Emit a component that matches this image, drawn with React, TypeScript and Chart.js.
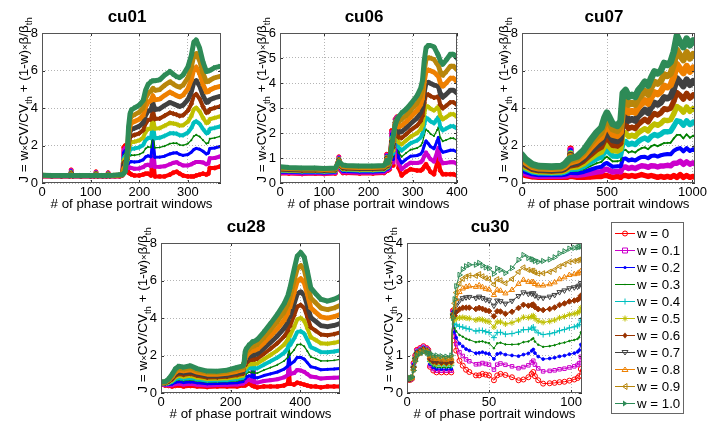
import React, { useEffect, useRef } from "react";
import { Chart, registerables } from "chart.js";

Chart.register(...registerables);

// ---------------- DATA ----------------
// J = w*CV/CV_th + (1-w)*beta/beta_th ; the w = 1 curve is CV/CV_th, the w = 0 curve is beta/beta_th
const W_VALUES = [0, 0.1, 0.2, 0.3, 0.4, 0.5, 0.6, 0.7, 0.8, 0.9, 1.0];
const LEGEND_LABELS = ["w = 0", "w = 0.1", "w = 0.2", "w = 0.3", "w = 0.4", "w = 0.5", "w = 0.6", "w = 0.7", "w = 0.8", "w = 0.9", "w = 1.0"];

// cu01
const CU01_X = [0, 20, 40, 57, 60, 63, 80, 100, 108, 111, 114, 125, 133, 136, 139, 150, 160, 165, 168, 171, 175, 178, 181, 184, 190, 200, 208, 213, 218, 224, 228, 232, 242, 252, 263, 270, 277, 283, 290, 300, 307, 312, 317, 324, 331, 338, 342, 345, 355, 366];
const CU01_CV = [0.42, 0.4, 0.4, 0.4, 0.42, 0.4, 0.4, 0.4, 0.4, 0.42, 0.4, 0.4, 0.4, 0.42, 0.4, 0.42, 0.44, 0.45, 0.5, 0.6, 1.5, 3.0, 3.7, 3.9, 4.0, 4.15, 4.4, 4.95, 5.25, 5.4, 5.45, 5.45, 5.5, 5.75, 5.95, 5.8, 5.67, 5.62, 5.76, 6.2, 6.8, 7.5, 7.63, 7.2, 6.45, 5.95, 5.97, 6.0, 6.15, 6.22];
const CU01_BETA = [0.35, 0.35, 0.35, 0.35, 0.7, 0.35, 0.35, 0.35, 0.35, 0.6, 0.35, 0.35, 0.35, 0.55, 0.35, 0.35, 0.35, 0.4, 1.9, 2.0, 0.9, 0.55, 0.5, 0.45, 0.4, 0.4, 0.45, 0.5, 0.5, 0.4, 1.5, 0.35, 0.35, 0.35, 0.45, 0.55, 0.6, 0.5, 0.4, 0.35, 0.35, 0.35, 0.4, 0.45, 0.5, 0.45, 0.5, 0.8, 0.8, 0.88];
const CU01_XTICKS = [0, 100, 200, 300];
const CU01_YTICKS = [0, 2, 4, 6, 8];

// cu06
const CU06_X = [0, 20, 50, 80, 100, 125, 130, 133, 137, 142, 150, 180, 210, 235, 238, 241, 244, 248, 252, 256, 260, 264, 268, 275, 285, 295, 310, 318, 322, 326, 330, 335, 340, 348, 355, 358, 362, 368, 375, 385, 392, 400];
const CU06_CV = [0.65, 0.62, 0.6, 0.6, 0.58, 0.6, 0.75, 0.85, 0.8, 0.72, 0.7, 0.68, 0.68, 0.7, 0.75, 0.9, 0.8, 1.0, 1.4, 1.9, 2.3, 2.5, 2.65, 2.8, 2.95, 3.15, 3.5, 3.8, 4.1, 4.9, 5.4, 5.5, 5.5, 5.45, 5.2, 5.1, 4.9, 4.75, 4.9, 5.15, 5.15, 5.0];
const CU06_BETA = [0.38, 0.38, 0.36, 0.38, 0.36, 0.38, 0.8, 1.05, 0.5, 0.4, 0.4, 0.38, 0.38, 0.4, 0.45, 1.15, 0.5, 0.55, 2.1, 0.7, 2.55, 2.65, 0.6, 0.3, 0.45, 0.55, 0.5, 0.5, 0.55, 0.65, 0.75, 0.6, 0.45, 0.35, 0.8, 1.0, 0.5, 0.35, 0.35, 0.35, 0.35, 0.3];
const CU06_XTICKS = [0, 100, 200, 300, 400];
const CU06_YTICKS = [0, 1, 2, 3, 4, 5, 6];

// cu07
const CU07_X = [0, 23, 60, 98, 174, 230, 249, 264, 280, 283, 287, 325, 362, 400, 438, 466, 485, 498, 513, 532, 560, 579, 592, 608, 626, 645, 664, 683, 702, 721, 740, 758, 777, 796, 815, 834, 853, 872, 891, 909, 928, 947, 966, 985, 1004, 1015];
const CU07_CV = [1.5, 1.25, 1.0, 0.9, 0.87, 0.9, 1.0, 1.15, 1.3, 1.3, 1.3, 1.43, 1.75, 2.25, 2.7, 2.95, 3.5, 3.75, 3.5, 3.15, 3.05, 3.3, 4.8, 4.95, 4.6, 4.7, 4.6, 4.95, 5.15, 5.4, 5.2, 5.6, 5.95, 5.85, 6.0, 6.4, 6.3, 6.45, 7.0, 7.85, 7.5, 7.25, 7.7, 7.35, 7.6, 7.5];
const CU07_BETA = [0.45, 0.4, 0.33, 0.3, 0.3, 0.3, 0.3, 0.3, 0.35, 1.85, 0.35, 0.3, 0.3, 0.32, 0.35, 0.35, 0.4, 0.4, 0.35, 0.3, 0.35, 0.3, 0.4, 0.4, 0.35, 0.4, 0.35, 0.4, 0.45, 0.4, 0.35, 0.4, 0.35, 0.3, 0.35, 0.3, 0.35, 0.3, 0.4, 0.3, 0.45, 0.3, 0.4, 0.3, 0.35, 0.3];
const CU07_XTICKS = [0, 500, 1000];
const CU07_YTICKS = [0, 2, 4, 6, 8];

// cu28
const CU28_X = [0, 12, 22, 32, 41, 51, 65, 85, 104, 133, 162, 190, 219, 236, 239, 242, 245, 253, 262, 265, 268, 277, 296, 315, 335, 354, 365, 368, 371, 383, 392, 402, 412, 421, 431, 445, 460, 479, 498, 515];
const CU28_CV = [0.6, 0.6, 0.75, 1.0, 1.28, 1.43, 1.38, 1.45, 1.3, 1.17, 1.16, 1.22, 1.36, 1.45, 1.6, 2.2, 2.35, 2.55, 2.7, 2.75, 2.75, 2.85, 3.25, 3.7, 4.2, 4.75, 5.2, 5.4, 5.6, 6.6, 7.3, 7.5, 7.25, 6.5, 5.6, 5.3, 5.0, 4.9, 5.0, 5.15];
const CU28_BETA = [0.45, 0.4, 0.38, 0.35, 0.38, 0.4, 0.35, 0.38, 0.35, 0.32, 0.35, 0.35, 0.35, 0.4, 1.5, 0.4, 0.45, 0.5, 0.4, 1.7, 0.35, 0.3, 0.35, 0.35, 0.35, 0.4, 0.5, 1.2, 0.5, 0.45, 0.55, 0.5, 0.45, 0.4, 0.35, 0.35, 0.3, 0.35, 0.35, 0.35];
const CU28_XTICKS = [0, 200, 400];
const CU28_YTICKS = [0, 2, 4, 6, 8];

// cu30
const CU30_X = [1, 2, 3, 4, 5, 6, 8, 10, 12, 13, 14, 16, 18, 21, 24, 27, 28, 29, 30, 32, 34, 36, 38, 42, 44, 46, 48, 50, 53, 55, 57, 60, 64, 68, 71, 74, 76, 77, 78, 80, 83, 87, 90, 93, 96, 99, 102, 104, 105, 106];
const CU30_CV = [0.4, 0.4, 0.42, 0.6, 0.85, 1.0, 1.05, 1.1, 1.08, 1.05, 1.05, 1.0, 1.0, 0.98, 0.97, 1.0, 2.0, 2.5, 2.85, 3.15, 3.3, 3.38, 3.42, 3.42, 3.47, 3.4, 3.35, 3.33, 3.18, 3.32, 3.28, 3.2, 3.33, 3.55, 3.68, 3.6, 3.57, 3.56, 3.52, 3.5, 3.52, 3.56, 3.62, 3.72, 3.78, 3.85, 3.87, 3.88, 3.9, 3.9];
const CU30_BETA = [0.35, 0.35, 0.38, 0.8, 1.0, 1.15, 1.2, 1.25, 1.2, 1.15, 0.7, 0.6, 0.55, 0.55, 0.55, 0.55, 2.2, 1.4, 1.13, 0.86, 0.73, 0.62, 0.56, 0.47, 0.47, 0.51, 0.49, 0.47, 0.34, 0.47, 0.51, 0.48, 0.42, 0.34, 0.36, 0.42, 0.51, 0.56, 0.45, 0.34, 0.25, 0.26, 0.27, 0.29, 0.3, 0.33, 0.36, 0.4, 0.45, 0.64];
const CU30_XTICKS = [0, 50, 100];
const CU30_YTICKS = [0, 1, 2, 3, 4];

// ---------------- STYLES ----------------
const FONT = '"Liberation Sans", Arial, Helvetica, sans-serif';
const COLORS = ["#ff0000", "#cc00cc", "#0000ff", "#008000", "#00bfbf", "#bfbf00", "#993300", "#404040", "#ee8000", "#b8860b", "#2e8b57"];
const MARKERS = [
  { style: "circle", rot: 0, r: 2.5, fill: false },
  { style: "rect", rot: 0, r: 2.5, fill: false },
  { style: "circle", rot: 0, r: 1.4, fill: true },
  { style: "circle", rot: 0, r: 0.8, fill: true },
  { style: "cross", rot: 0, r: 3, fill: false },
  { style: "star", rot: 0, r: 3, fill: false },
  { style: "rectRot", rot: 0, r: 2.8, fill: false },
  { style: "triangle", rot: 180, r: 3, fill: false },
  { style: "triangle", rot: 0, r: 3, fill: false },
  { style: "triangle", rot: -90, r: 3, fill: false },
  { style: "triangle", rot: 90, r: 3, fill: false },
];
const BAND_W = [4, 4, 3, 1.3, 4, 4, 4, 4.8, 4.8, 4.8, 5];

type Panel = {
  title: string;
  x: number[];
  cv: number[];
  beta: number[];
  xTicks: number[];
  yTicks: number[];
  xMax: number;
  box: { l: number; t: number; r: number; b: number };
  band: number;
  sparse: boolean;
  legend: boolean;
};

const PANELS: Panel[] = [
  { title: "cu01", x: CU01_X, cv: CU01_CV, beta: CU01_BETA, xTicks: CU01_XTICKS, yTicks: CU01_YTICKS, xMax: 368, box: { l: 42, t: 33, r: 221, b: 183 }, band: 1, sparse: false, legend: false },
  { title: "cu06", x: CU06_X, cv: CU06_CV, beta: CU06_BETA, xTicks: CU06_XTICKS, yTicks: CU06_YTICKS, xMax: 400, box: { l: 280, t: 33, r: 457, b: 183 }, band: 1, sparse: false, legend: false },
  { title: "cu07", x: CU07_X, cv: CU07_CV, beta: CU07_BETA, xTicks: CU07_XTICKS, yTicks: CU07_YTICKS, xMax: 1015, box: { l: 522, t: 33, r: 701, b: 183 }, band: 1.35, sparse: false, legend: false },
  { title: "cu28", x: CU28_X, cv: CU28_CV, beta: CU28_BETA, xTicks: CU28_XTICKS, yTicks: CU28_YTICKS, xMax: 515, box: { l: 161, t: 243, r: 340, b: 393 }, band: 1, sparse: false, legend: false },
  { title: "cu30", x: CU30_X, cv: CU30_CV, beta: CU30_BETA, xTicks: CU30_XTICKS, yTicks: CU30_YTICKS, xMax: 106.7, box: { l: 407, t: 243, r: 582, b: 393 }, band: 1, sparse: true, legend: true },
];

const Y_AXIS_W = 30;
const X_AXIS_H = 22;

function drawMarker(ctx: CanvasRenderingContext2D, k: number, x: number, y: number) {
  const c = COLORS[k];
  ctx.save();
  ctx.strokeStyle = c;
  ctx.fillStyle = c;
  ctx.lineWidth = 1;
  ctx.beginPath();
  const s = 2.5;
  switch (k) {
    case 0: ctx.arc(x, y, s, 0, Math.PI * 2); ctx.stroke(); break;
    case 1: ctx.rect(x - s, y - s, 2 * s, 2 * s); ctx.stroke(); break;
    case 2: ctx.arc(x, y, 1.5, 0, Math.PI * 2); ctx.fill(); break;
    case 3: ctx.arc(x, y, 0.8, 0, Math.PI * 2); ctx.fill(); break;
    case 4: ctx.moveTo(x - 3, y); ctx.lineTo(x + 3, y); ctx.moveTo(x, y - 3); ctx.lineTo(x, y + 3); ctx.stroke(); break;
    case 5: ctx.moveTo(x - 3, y); ctx.lineTo(x + 3, y); ctx.moveTo(x, y - 3); ctx.lineTo(x, y + 3);
      ctx.moveTo(x - 2, y - 2); ctx.lineTo(x + 2, y + 2); ctx.moveTo(x - 2, y + 2); ctx.lineTo(x + 2, y - 2); ctx.stroke(); break;
    case 6: ctx.moveTo(x, y - 3); ctx.lineTo(x + 2.5, y); ctx.lineTo(x, y + 3); ctx.lineTo(x - 2.5, y); ctx.closePath(); ctx.fill(); break;
    case 7: ctx.moveTo(x - 3, y - 2); ctx.lineTo(x + 3, y - 2); ctx.lineTo(x, y + 2.5); ctx.closePath(); ctx.stroke(); break;
    case 8: ctx.moveTo(x - 3, y + 2); ctx.lineTo(x + 3, y + 2); ctx.lineTo(x, y - 2.5); ctx.closePath(); ctx.stroke(); break;
    case 9: ctx.moveTo(x + 2, y - 3); ctx.lineTo(x + 2, y + 3); ctx.lineTo(x - 2.5, y); ctx.closePath(); ctx.stroke(); break;
    case 10: ctx.moveTo(x - 2, y - 3); ctx.lineTo(x - 2, y + 3); ctx.lineTo(x + 2.5, y); ctx.closePath(); ctx.fill(); break;
  }
  ctx.restore();
}

function drawYLabel(ctx: CanvasRenderingContext2D, baseX: number, centerY: number) {
  const big = 13.5;
  const small = 9.5;
  const segs = [
    { t: "J = w", s: big, dy: 0 },
    { t: "\u00d7", s: small, dy: 0 },
    { t: "CV/CV", s: big, dy: 0 },
    { t: "th", s: small, dy: 3.5 },
    { t: " + (1-w)", s: big, dy: 0 },
    { t: "\u00d7", s: small, dy: 0 },
    { t: "\u03b2/\u03b2", s: big, dy: 0 },
    { t: "th", s: small, dy: 3.5 },
  ];
  ctx.save();
  ctx.translate(baseX, centerY);
  ctx.rotate(-Math.PI / 2);
  ctx.fillStyle = "#000";
  ctx.textBaseline = "alphabetic";
  ctx.textAlign = "left";
  let total = 0;
  const widths = segs.map((g) => {
    ctx.font = `${g.s}px ${FONT}`;
    const w = ctx.measureText(g.t).width;
    total += w;
    return w;
  });
  let x = -total / 2;
  segs.forEach((g, i) => {
    ctx.font = `${g.s}px ${FONT}`;
    ctx.fillText(g.t, x, g.dy);
    x += widths[i];
  });
  ctx.restore();
}

const decoPlugin = {
  id: "deco",
  afterDraw(chart: any, _args: any, opts: any) {
    const p: Panel = opts.panel;
    const ctx: CanvasRenderingContext2D = chart.ctx;
    const { left, right, top, bottom } = chart.chartArea;
    const xs = chart.scales.x;
    const ys = chart.scales.y;
    ctx.save();
    // inward tick marks
    ctx.strokeStyle = "#333";
    ctx.lineWidth = 1;
    ctx.beginPath();
    p.xTicks.forEach((v) => {
      const px = Math.round(xs.getPixelForValue(v)) + 0.5;
      ctx.moveTo(px, bottom); ctx.lineTo(px, bottom - 3);
      ctx.moveTo(px, top); ctx.lineTo(px, top + 3);
    });
    p.yTicks.forEach((v) => {
      const py = Math.round(ys.getPixelForValue(v)) + 0.5;
      ctx.moveTo(left, py); ctx.lineTo(left + 3, py);
      ctx.moveTo(right, py); ctx.lineTo(right - 3, py);
    });
    ctx.stroke();
    // box
    ctx.strokeStyle = "#555";
    ctx.strokeRect(left + 0.5, top + 0.5, right - left - 1, bottom - top - 1);
    // title
    ctx.fillStyle = "#000";
    ctx.font = `bold 17px ${FONT}`;
    ctx.textAlign = "center";
    ctx.textBaseline = "alphabetic";
    ctx.fillText(p.title, (left + right) / 2 - 4.5, top - 11);
    // x label
    ctx.font = `13.3px ${FONT}`;
    ctx.fillText("# of phase portrait windows", (left + right) / 2, bottom + 24.5);
    ctx.restore();
    // y label
    drawYLabel(ctx, left - 14, (top + bottom) / 2 - 8);

    if (p.legend) {
      ctx.save();
      const L = 611, T = 222, R = 683, B = 413;
      ctx.fillStyle = "#fff";
      ctx.fillRect(L, T, R - L, B - T);
      ctx.strokeStyle = "#666";
      ctx.lineWidth = 1;
      ctx.strokeRect(L + 0.5, T + 0.5, R - L, B - T);
      ctx.font = `13.3px ${FONT}`;
      ctx.textAlign = "left";
      ctx.textBaseline = "middle";
      LEGEND_LABELS.forEach((lab, k) => {
        const y = 233.5 + 17 * k;
        ctx.strokeStyle = COLORS[k];
        ctx.lineWidth = 1;
        ctx.beginPath();
        ctx.moveTo(615, y);
        ctx.lineTo(635, y);
        ctx.stroke();
        drawMarker(ctx, k, 625, y);
        ctx.fillStyle = "#000";
        ctx.fillText(lab, 637, y + 0.5);
      });
      ctx.restore();
    }
  },
};

function buildConfig(p: Panel): any {
  const datasets = W_VALUES.map((w, k) => ({
    label: LEGEND_LABELS[k],
    data: p.x.map((xv, i) => ({ x: xv, y: w * p.cv[i] + (1 - w) * p.beta[i] })),
    borderColor: COLORS[k],
    backgroundColor: COLORS[k],
    borderWidth: p.sparse ? 1 : BAND_W[k] * p.band,
    borderJoinStyle: "round",
    borderCapStyle: "round",
    pointStyle: MARKERS[k].style,
    pointRotation: MARKERS[k].rot,
    pointRadius: p.sparse ? MARKERS[k].r : MARKERS[k].r * 0.8,
    pointBorderColor: COLORS[k],
    pointBackgroundColor: MARKERS[k].fill || k === 6 ? COLORS[k] : "rgba(255,255,255,0)",
    pointBorderWidth: 1,
    tension: 0,
    fill: false,
    order: 10 - k,
  }));
  const tickFont = { family: FONT, size: 13 };
  return {
    type: "line",
    data: { datasets },
    plugins: [decoPlugin],
    options: {
      responsive: false,
      maintainAspectRatio: false,
      animation: false,
      devicePixelRatio: 1,
      events: [],
      layout: {
        autoPadding: false,
        padding: {
          left: p.box.l - Y_AXIS_W,
          top: p.box.t,
          right: 709 - p.box.r,
          bottom: 428 - p.box.b - X_AXIS_H,
        },
      },
      plugins: {
        legend: { display: false },
        title: { display: false },
        tooltip: { enabled: false },
        deco: { panel: p },
      },
      scales: {
        x: {
          type: "linear",
          min: 0,
          max: p.xMax,
          afterBuildTicks: (axis: any) => {
            axis.ticks = p.xTicks.map((v) => ({ value: v }));
          },
          afterFit: (axis: any) => {
            axis.height = X_AXIS_H;
          },
          ticks: { color: "#000", font: tickFont, padding: 2, maxRotation: 0, autoSkip: false, callback: (v: any) => String(v) },
          grid: { color: "#b4b4b4", lineWidth: 1, drawTicks: false },
          border: { display: false, dash: [1, 2] },
        },
        y: {
          type: "linear",
          min: 0,
          max: p.yTicks[p.yTicks.length - 1],
          afterBuildTicks: (axis: any) => {
            axis.ticks = p.yTicks.map((v) => ({ value: v }));
          },
          afterFit: (axis: any) => {
            axis.width = Y_AXIS_W;
          },
          ticks: { color: "#000", font: tickFont, padding: 4, autoSkip: false, callback: (v: any) => String(v) },
          grid: { color: "#b4b4b4", lineWidth: 1, drawTicks: false },
          border: { display: false, dash: [1, 2] },
        },
      },
    },
  };
}

function PanelChart({ p }: { p: Panel }) {
  const ref = useRef<HTMLCanvasElement | null>(null);
  useEffect(() => {
    if (!ref.current) return;
    const chart = new Chart(ref.current, buildConfig(p));
    return () => chart.destroy();
  }, [p]);
  return (
    <canvas
      ref={ref}
      width={709}
      height={428}
      style={{ position: "absolute", left: 0, top: 0, width: 709, height: 428 }}
    />
  );
}

export default function App() {
  return (
    <div style={{ position: "absolute", left: 0, top: 0, width: 709, height: 428, background: "#fff", overflow: "hidden" }}>
      {PANELS.map((p) => (
        <PanelChart key={p.title} p={p} />
      ))}
    </div>
  );
}
